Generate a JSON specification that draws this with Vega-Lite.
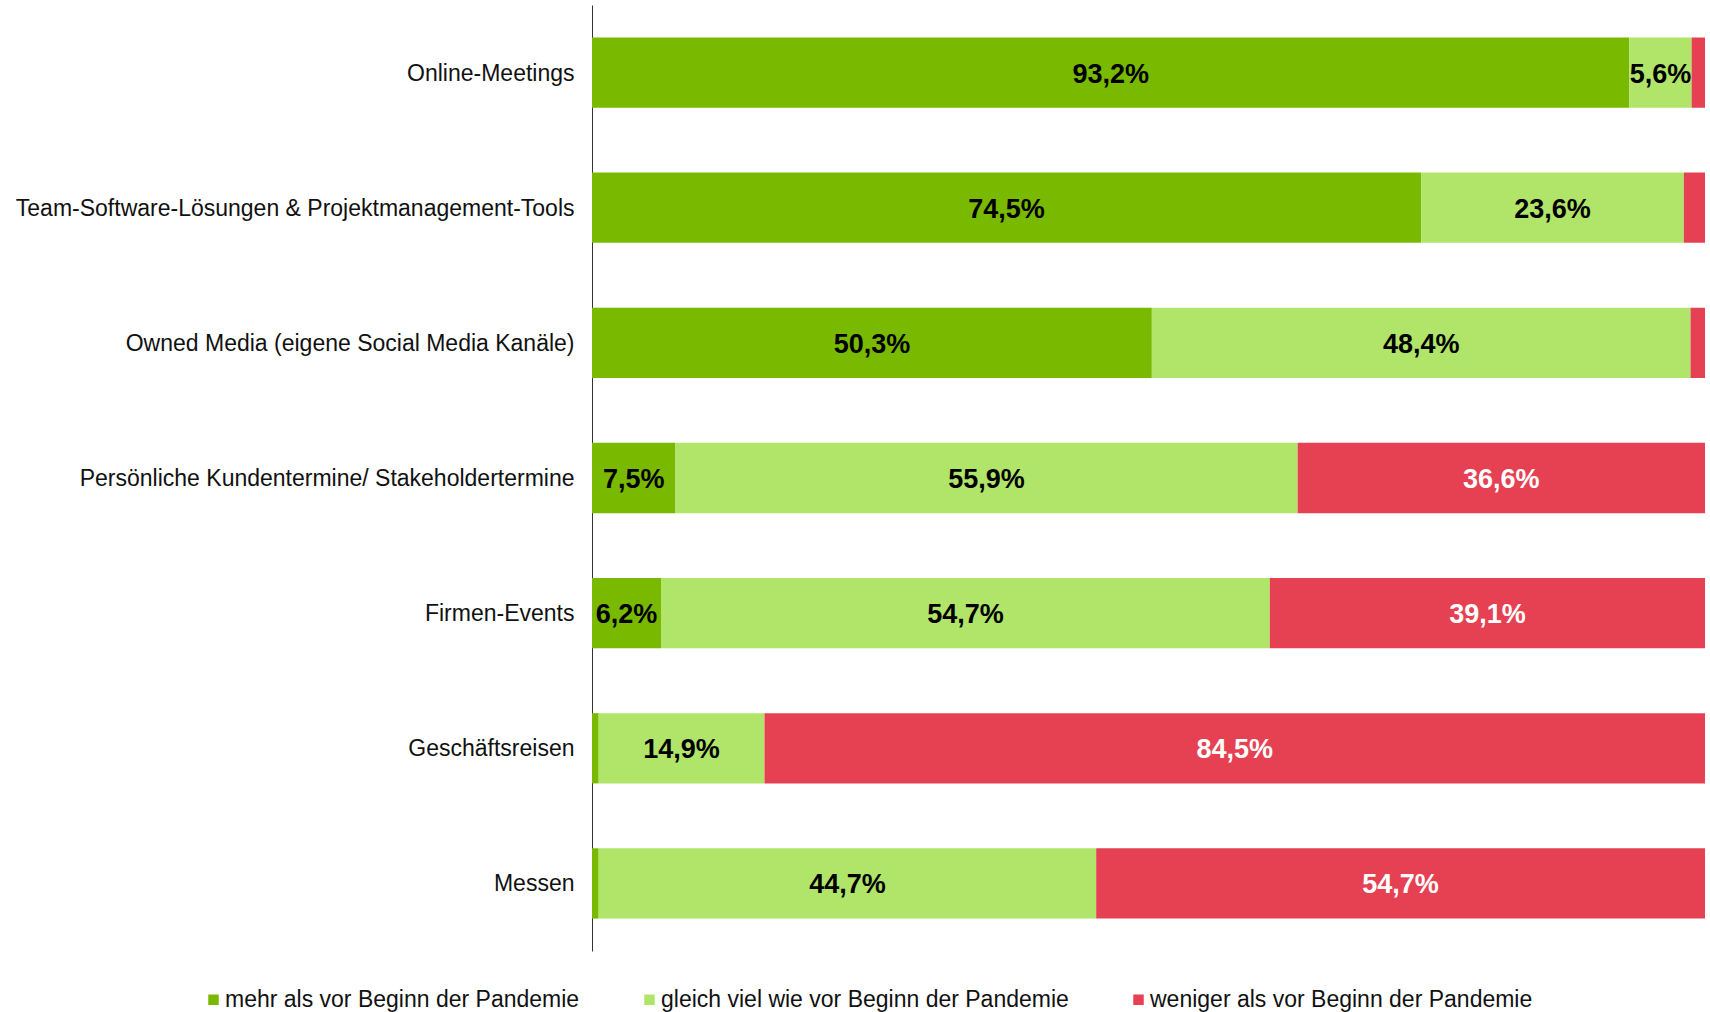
{
  "$schema": "https://vega.github.io/schema/vega-lite/v6.json",
  "width": 1113,
  "height": 946,
  "autosize": {"type": "none"},
  "padding": {"left": 592, "top": 5, "right": 5, "bottom": 61},
  "background": "white",
  "config": {
    "view": {"stroke": null},
    "font": "Liberation Sans"
  },
  "data": {
    "values": [
      {"kategorie": "Online-Meetings", "gruppe": "mehr als vor Beginn der Pandemie", "ord": 1, "wert": 93.2, "zeigen": true},
      {"kategorie": "Online-Meetings", "gruppe": "gleich viel wie vor Beginn der Pandemie", "ord": 2, "wert": 5.6, "zeigen": true},
      {"kategorie": "Online-Meetings", "gruppe": "weniger als vor Beginn der Pandemie", "ord": 3, "wert": 1.2, "zeigen": false},
      {"kategorie": "Team-Software-Lösungen & Projektmanagement-Tools", "gruppe": "mehr als vor Beginn der Pandemie", "ord": 1, "wert": 74.5, "zeigen": true},
      {"kategorie": "Team-Software-Lösungen & Projektmanagement-Tools", "gruppe": "gleich viel wie vor Beginn der Pandemie", "ord": 2, "wert": 23.6, "zeigen": true},
      {"kategorie": "Team-Software-Lösungen & Projektmanagement-Tools", "gruppe": "weniger als vor Beginn der Pandemie", "ord": 3, "wert": 1.9, "zeigen": false},
      {"kategorie": "Owned Media (eigene Social Media Kanäle)", "gruppe": "mehr als vor Beginn der Pandemie", "ord": 1, "wert": 50.3, "zeigen": true},
      {"kategorie": "Owned Media (eigene Social Media Kanäle)", "gruppe": "gleich viel wie vor Beginn der Pandemie", "ord": 2, "wert": 48.4, "zeigen": true},
      {"kategorie": "Owned Media (eigene Social Media Kanäle)", "gruppe": "weniger als vor Beginn der Pandemie", "ord": 3, "wert": 1.3, "zeigen": false},
      {"kategorie": "Persönliche Kundentermine/ Stakeholdertermine", "gruppe": "mehr als vor Beginn der Pandemie", "ord": 1, "wert": 7.5, "zeigen": true},
      {"kategorie": "Persönliche Kundentermine/ Stakeholdertermine", "gruppe": "gleich viel wie vor Beginn der Pandemie", "ord": 2, "wert": 55.9, "zeigen": true},
      {"kategorie": "Persönliche Kundentermine/ Stakeholdertermine", "gruppe": "weniger als vor Beginn der Pandemie", "ord": 3, "wert": 36.6, "zeigen": true},
      {"kategorie": "Firmen-Events", "gruppe": "mehr als vor Beginn der Pandemie", "ord": 1, "wert": 6.2, "zeigen": true},
      {"kategorie": "Firmen-Events", "gruppe": "gleich viel wie vor Beginn der Pandemie", "ord": 2, "wert": 54.7, "zeigen": true},
      {"kategorie": "Firmen-Events", "gruppe": "weniger als vor Beginn der Pandemie", "ord": 3, "wert": 39.1, "zeigen": true},
      {"kategorie": "Geschäftsreisen", "gruppe": "mehr als vor Beginn der Pandemie", "ord": 1, "wert": 0.6, "zeigen": false},
      {"kategorie": "Geschäftsreisen", "gruppe": "gleich viel wie vor Beginn der Pandemie", "ord": 2, "wert": 14.9, "zeigen": true},
      {"kategorie": "Geschäftsreisen", "gruppe": "weniger als vor Beginn der Pandemie", "ord": 3, "wert": 84.5, "zeigen": true},
      {"kategorie": "Messen", "gruppe": "mehr als vor Beginn der Pandemie", "ord": 1, "wert": 0.6, "zeigen": false},
      {"kategorie": "Messen", "gruppe": "gleich viel wie vor Beginn der Pandemie", "ord": 2, "wert": 44.7, "zeigen": true},
      {"kategorie": "Messen", "gruppe": "weniger als vor Beginn der Pandemie", "ord": 3, "wert": 54.7, "zeigen": true}
    ]
  },
  "transform": [
    {"stack": "wert", "groupby": ["kategorie"], "sort": [{"field": "ord", "order": "ascending"}], "as": ["x0", "x1"]},
    {"calculate": "(datum.x0 + datum.x1) / 2", "as": "mitte"},
    {"calculate": "replace(format(datum.wert, '.1f'), '.', ',') + '%'", "as": "etikett"}
  ],
  "encoding": {
    "y": {
      "field": "kategorie",
      "type": "nominal",
      "sort": ["Online-Meetings", "Team-Software-Lösungen & Projektmanagement-Tools", "Owned Media (eigene Social Media Kanäle)", "Persönliche Kundentermine/ Stakeholdertermine", "Firmen-Events", "Geschäftsreisen", "Messen"],
      "scale": {"paddingInner": 0.48, "paddingOuter": 0.24},
      "axis": {
        "title": null,
        "ticks": false,
        "domain": true,
        "domainColor": "#333333",
        "domainWidth": 1,
        "labelFont": "Liberation Sans",
        "labelFontSize": 23,
        "labelColor": "#111111",
        "labelPadding": 18,
        "labelLimit": 0,
        "labelOffset": 1
      }
    }
  },
  "layer": [
    {
      "mark": {"type": "bar"},
      "encoding": {
        "x": {"field": "x0", "type": "quantitative", "scale": {"domain": [0, 100], "nice": false}, "axis": null},
        "x2": {"field": "x1"},
        "color": {
          "field": "gruppe",
          "type": "nominal",
          "sort": ["mehr als vor Beginn der Pandemie", "gleich viel wie vor Beginn der Pandemie", "weniger als vor Beginn der Pandemie"],
          "scale": {
            "domain": ["mehr als vor Beginn der Pandemie", "gleich viel wie vor Beginn der Pandemie", "weniger als vor Beginn der Pandemie"],
            "range": ["#79B900", "#B1E569", "#E54152"]
          },
          "legend": {
            "title": null,
            "orient": "none",
            "direction": "horizontal",
            "legendX": -390,
            "legendY": 983,
            "symbolType": "square",
            "symbolSize": 110,
            "symbolStrokeWidth": 0,
            "labelFont": "Liberation Sans",
            "labelFontSize": 23,
            "labelColor": "#111111",
            "labelOffset": 0,
            "labelLimit": 0,
            "columnPadding": 58
          }
        }
      }
    },
    {
      "transform": [{"filter": "datum.zeigen"}],
      "mark": {"type": "text", "font": "Liberation Sans", "fontWeight": "bold", "fontSize": 27, "baseline": "middle", "align": "center", "dy": 2},
      "encoding": {
        "x": {"field": "mitte", "type": "quantitative"},
        "text": {"field": "etikett"},
        "color": {
          "condition": {"test": "datum.ord == 3", "value": "white"},
          "value": "black"
        }
      }
    }
  ]
}
